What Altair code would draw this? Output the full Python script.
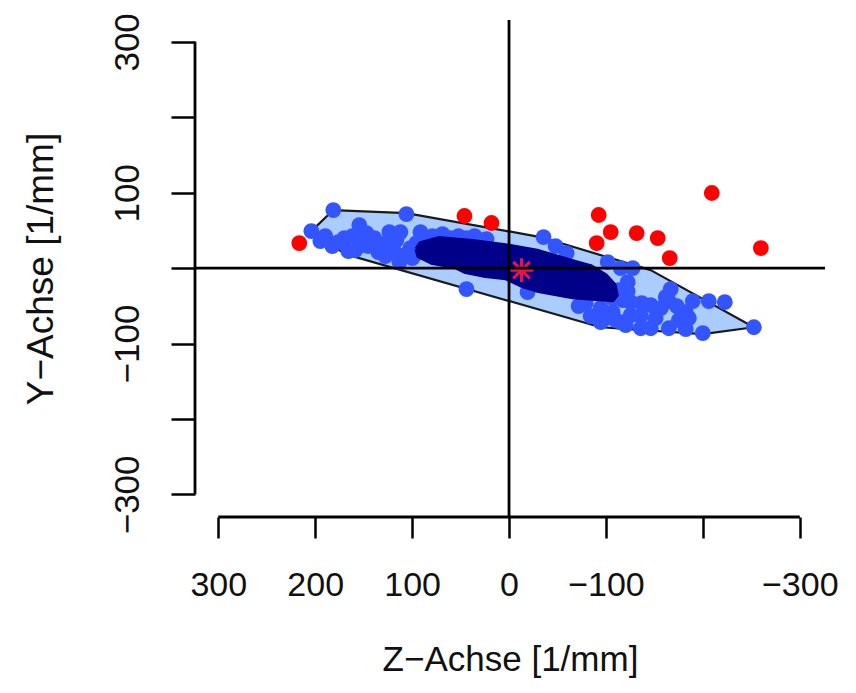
import altair as alt
import pandas as pd

# ---- data ----
# loop hull (convex hull of non-outlying points), closed polygon
hull_z = [204.0, 181.3, 105.9, -32.5, -146.2, -252.6, -199.9, -94.5, 168.9, 204.0]
hull_y = [49.1, 77.0, 73.0, 41.2, -2.7, -78.4, -87.6, -78.4, 18.6, 49.1]

# bag region (dense inner points), closed polygon
bag_z = [95.6, 91.4, 72.8, 37.7, 3.6, -30.5, -65.6, -84.2, -99.7, -109.0, -111.1,
         -106.9, -65.6, -30.5, -13.9, 3.6, 24.3, 44.9, 55.3, 79.0, 93.5, 95.6]
bag_y = [25.2, 33.2, 39.8, 35.9, 30.5, 22.6, 9.3, 2.7, -9.3, -22.6, -35.9,
         -42.5, -38.5, -30.5, -23.9, -13.3, -10.6, -5.3, 1.3, 6.6, 15.9, 25.2]

# loop points
loop_z = [204.0, 194.7, 181.3, 182.3, 169.9, 165.8, 154.5, 151.4, 139.0, 134.8,
          123.5, 119.3, 113.1, 105.9, 112.1, 101.8, 99.7, 91.4, 86.3, 68.7,
          52.2, 35.6, 23.2, 43.9, -35.6, -48.0, -59.4, -101.8, -115.2, -127.6,
          -19.1, -71.8, -84.2, -94.5, -106.9, -122.4, -117.3, -125.5, -135.9, -115.2,
          -136.9, -151.3, -164.8, -166.8, -182.3, -189.6, -206.1, -222.6, -164.8, -182.3,
          -199.9, -252.6, -113.1,
          189.6, 176.1, 161.7, 158.6, 145.1, 147.2, 130.7, 127.6, 116.2, 107.9,
          95.6, 91.4, 79.0, 60.4, 43.9, 29.4,
          -79.0, -94.5, -99.7, -110.0, -106.9,
          -122.4, -125.5, -135.9, -146.2, -156.6, -173.1, -175.1, -185.5, -161.7, -120.4,
          -146.2]
loop_y = [49.1, 35.9, 77.0, 29.2, 39.8, 22.6, 57.1, 30.5, 39.8, 21.2,
          47.8, 23.9, 8.0, 71.7, 47.8, 26.6, 13.3, 47.8, 39.8, 45.2,
          42.5, 42.5, 38.5, -27.9, 41.2, 29.2, 19.9, 8.0, 0.0, 0.0,
          -31.9, -50.5, -63.7, -71.7, -58.4, -18.6, -42.5, -62.4, -79.7, -71.7,
          -46.5, -66.4, -43.8, -27.9, -58.4, -43.8, -43.8, -45.2, -79.7, -81.0,
          -86.3, -78.4, -29.2,
          42.5, 34.5, 42.5, 23.9, 29.2, 46.5, 31.9, 15.9, 37.2, 17.3,
          33.2, 21.2, 42.5, 39.8, 39.8, 37.2,
          -46.5, -53.1, -66.4, -69.1, -39.8,
          -30.5, -45.2, -63.7, -49.1, -53.1, -50.5, -69.1, -66.4, -38.5, -75.7,
          -79.7]

# outliers
out_z = [216.4, 46.0, 18.1, -92.5, -90.4, -104.9, -131.7, -153.4, -165.8, -209.2, -259.8]
out_y = [33.2, 69.1, 59.8, 70.4, 33.2, 47.8, 46.5, 39.8, 13.3, 99.6, 26.6]

# depth median
med_z = [-12.9]
med_y = [-2.7]

x_ticks = [300, 200, 100, 0, -100, -200, -300]
y_ticks = [300, 200, 100, 0, -100, -200, -300]
x_dom = [-326, 324]
y_dom = [-330, 329]

FONT = "Liberation Sans"

hull_df = pd.DataFrame({"z": hull_z, "y": hull_y, "i": range(len(hull_z))})
bag_df = pd.DataFrame({"z": bag_z, "y": bag_y, "i": range(len(bag_z))})
loop_df = pd.DataFrame({"z": loop_z, "y": loop_y})
out_df = pd.DataFrame({"z": out_z, "y": out_y})
med_df = pd.DataFrame({"z": med_z, "y": med_y})

xs = alt.Scale(domain=x_dom, reverse=True, nice=False, zero=False)
ys = alt.Scale(domain=y_dom, nice=False, zero=False)

x_axis = alt.Axis(
    values=x_ticks, domain=False, grid=False, tickSize=21, tickWidth=2.5,
    tickColor="black", labelFontSize=34, labelFont=FONT, labelColor="#111",
    labelPadding=30, labelOverlap=False, labelFlush=False,
    labelExpr="datum.value == -200 ? '' : replace(format(datum.value, 'd'), '-', '\u2212')",
    title="Z\u2212Achse [1/mm]", titleFont=FONT, titleFontSize=35,
    titleFontWeight="normal", titleColor="#111", titlePadding=40,
)
y_axis = alt.Axis(
    values=y_ticks, domain=False, grid=False, tickSize=24, tickWidth=2.5,
    tickColor="black", labelFontSize=35, labelFont=FONT, labelColor="#111",
    labelAngle=-90, labelAlign="center", labelBaseline="bottom",
    labelPadding=26, labelOverlap=False, labelFlush=False,
    labelExpr="(datum.value == 200 || datum.value == 0 || datum.value == -200) ? '' : replace(format(datum.value, 'd'), '-', '\u2212')",
    title="Y\u2212Achse [1/mm]", titleFont=FONT, titleFontSize=37,
    titleFontWeight="normal", titleColor="#111", titlePadding=50,
)

def X():
    return alt.X("z:Q", scale=xs, axis=x_axis)

def Y():
    return alt.Y("y:Q", scale=ys, axis=y_axis)

hull = alt.Chart(hull_df).mark_line(
    fill="#aaccff", stroke="#1a1a1a", strokeWidth=2.2, strokeJoin="round"
).encode(x=X(), y=Y(), order="i:Q")

loop_pts = alt.Chart(loop_df).mark_circle(size=250, color="#3355ff", opacity=1).encode(x=X(), y=Y())

bag = alt.Chart(bag_df).mark_line(
    fill="#000088", stroke="#000088", strokeWidth=4, strokeJoin="round"
).encode(x=X(), y=Y(), order="i:Q")

outliers = alt.Chart(out_df).mark_circle(size=250, color="#ff0000", opacity=1).encode(x=X(), y=Y())

star = alt.Chart(med_df).mark_point(
    shape="M-1,0L1,0M0,-1L0,1M-0.7,-0.7L0.7,0.7M-0.7,0.7L0.7,-0.7",
    size=560, stroke="#ee1144", strokeWidth=3, filled=False, opacity=1
).encode(x=X(), y=Y())

# axis lines spanning the tick range, and the cross lines through the origin
xline_df = pd.DataFrame({"z": [x_ticks[0]], "z2": [x_ticks[-1]], "y": [y_dom[0]]})
yline_df = pd.DataFrame({"z": [x_dom[1]], "y": [y_ticks[-1]], "y2": [y_ticks[0]]})
xline = alt.Chart(xline_df).mark_rule(color="black", strokeWidth=2.8).encode(
    x=X(), x2="z2:Q", y=Y())
yline = alt.Chart(yline_df).mark_rule(color="black", strokeWidth=2.8).encode(
    x=X(), y=Y(), y2="y2:Q")

h0 = alt.Chart(pd.DataFrame({"y": [0]})).mark_rule(color="black", strokeWidth=2.8).encode(y=Y())
v0 = alt.Chart(pd.DataFrame({"z": [0]})).mark_rule(color="black", strokeWidth=2.8).encode(x=X())

chart = alt.layer(hull, loop_pts, bag, outliers, star, h0, v0, xline, yline).properties(
    width=630, height=497,
    autosize=alt.AutoSizeParams(type="none"),
    padding={"left": 187, "top": 12, "right": 23, "bottom": 168},
    background="white",
).configure_view(stroke=None)

chart.save("out.html", embed_options={"renderer": "svg", "actions": False})
